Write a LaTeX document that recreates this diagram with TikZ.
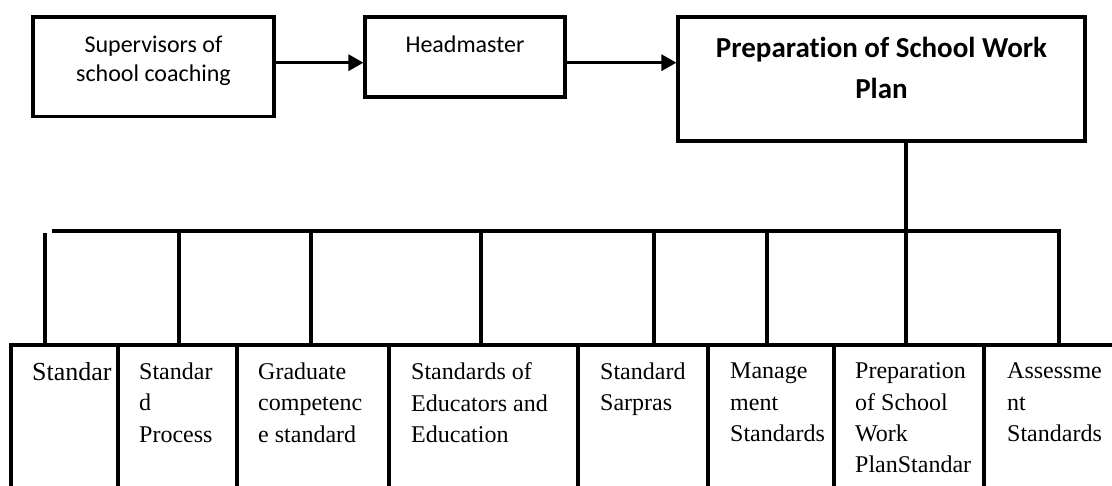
\documentclass[tikz,border=0pt]{standalone}
\usepackage{fontspec}
\setmainfont{Liberation Serif}
\newfontfamily\calib[Ligatures=NoCommon]{Carlito}
\usetikzlibrary{arrows.meta}
\begin{document}
\begin{tikzpicture}[x=1pt,y=-1pt,
  lw/.style={line width=3.1pt},
  box/.style={draw, lw, inner sep=0pt},
  cellbox/.style={draw, lw, inner sep=0pt, outer sep=0pt, anchor=north west, minimum height=160pt},
  ctext/.style={inner sep=0pt, align=center, font=\calib\fontsize{24}{29}\selectfont},
  btext/.style={inner sep=0pt, align=center, font=\calib\bfseries\fontsize{29}{41}\selectfont},
  stext/.style={inner sep=0pt, align=left, anchor=north west, font=\fontsize{24}{31.3}\selectfont},
  arr/.style={lw, -{Triangle[length=15pt,width=16pt]}}]
\useasboundingbox (0,0) rectangle (1112,485);
\fill[white] (0,0) rectangle (1112,485);

% top boxes
\node[box, minimum width=241pt, minimum height=99.5pt] (sup) at (153.5,66.75) {};
\node[box, minimum width=200pt, minimum height=80pt] (head) at (465,57) {};
\node[box, minimum width=407pt, minimum height=124pt] (plan) at (881.5,79) {};

\node[ctext, anchor=north] (supt) at (153.5,36) {Supervisors of\\school coaching};
\node[ctext, anchor=north] (headt) at (465,36) {Headmaster};
\node[btext, anchor=north] (plant) at (881.5,37) {Preparation of School Work\\Plan};

% arrows
\coordinate (ay) at (0,62.7);
\draw[arr] (sup.east |- ay) -- (head.west |- ay);
\draw[arr] (head.east |- ay) -- (plan.west |- ay);

% trunk and bar
\coordinate (trunk) at (906,231);
\coordinate (rowtop) at (0,345);
\draw[lw] (plan.south -| trunk) -- (trunk);
\coordinate (barL) at (52,231);
\coordinate (barR) at (1059,231);
\draw[lw] (barL) -- (barR) -- (barR |- rowtop);
\foreach \xx/\nm in {179/d1,311/d2,481/d3,654/d4,767/d5,906/d6}{
  \coordinate (\nm) at (\xx,231);
  \draw[lw] (\nm) -- (\nm |- rowtop);
}
\coordinate (lv) at (45,233);
\draw[lw] (lv) -- (lv |- rowtop);

% bottom cells
\node[cellbox, minimum width=107pt] (c1) at (11,345) {};
\node[cellbox, minimum width=119pt] (c2) at (118,345) {};
\node[cellbox, minimum width=152pt] (c3) at (237,345) {};
\node[cellbox, minimum width=189pt] (c4) at (389,345) {};
\node[cellbox, minimum width=130pt] (c5) at (578,345) {};
\node[cellbox, minimum width=126pt] (c6) at (708,345) {};
\node[cellbox, minimum width=150pt] (c7) at (834,345) {};
\node[cellbox, minimum width=150pt] (c8) at (984,345) {};

\node[stext, font=\fontsize{26}{31.3}\selectfont] (t1) at (32,362.5) {Standar};
\node[stext] (t2) at (139,362.8) {Standar\\d\\Process};
\node[stext] (t3) at (258,362.8) {Graduate\\competenc\\e standard};
\node[stext] (t4) at (411,362.8) {Standards of\\Educators and\\Education};
\node[stext] (t5) at (600,362.8) {Standard\\Sarpras};
\node[stext] (t6) at (730,362.8) {Manage\\ment\\Standards};
\node[stext] (t7) at (855,362.8) {Preparation\\of School\\Work\\PlanStandar};
\node[stext] (t8) at (1007,362.8) {Assessme\\nt\\Standards};
\end{tikzpicture}
\end{document}
